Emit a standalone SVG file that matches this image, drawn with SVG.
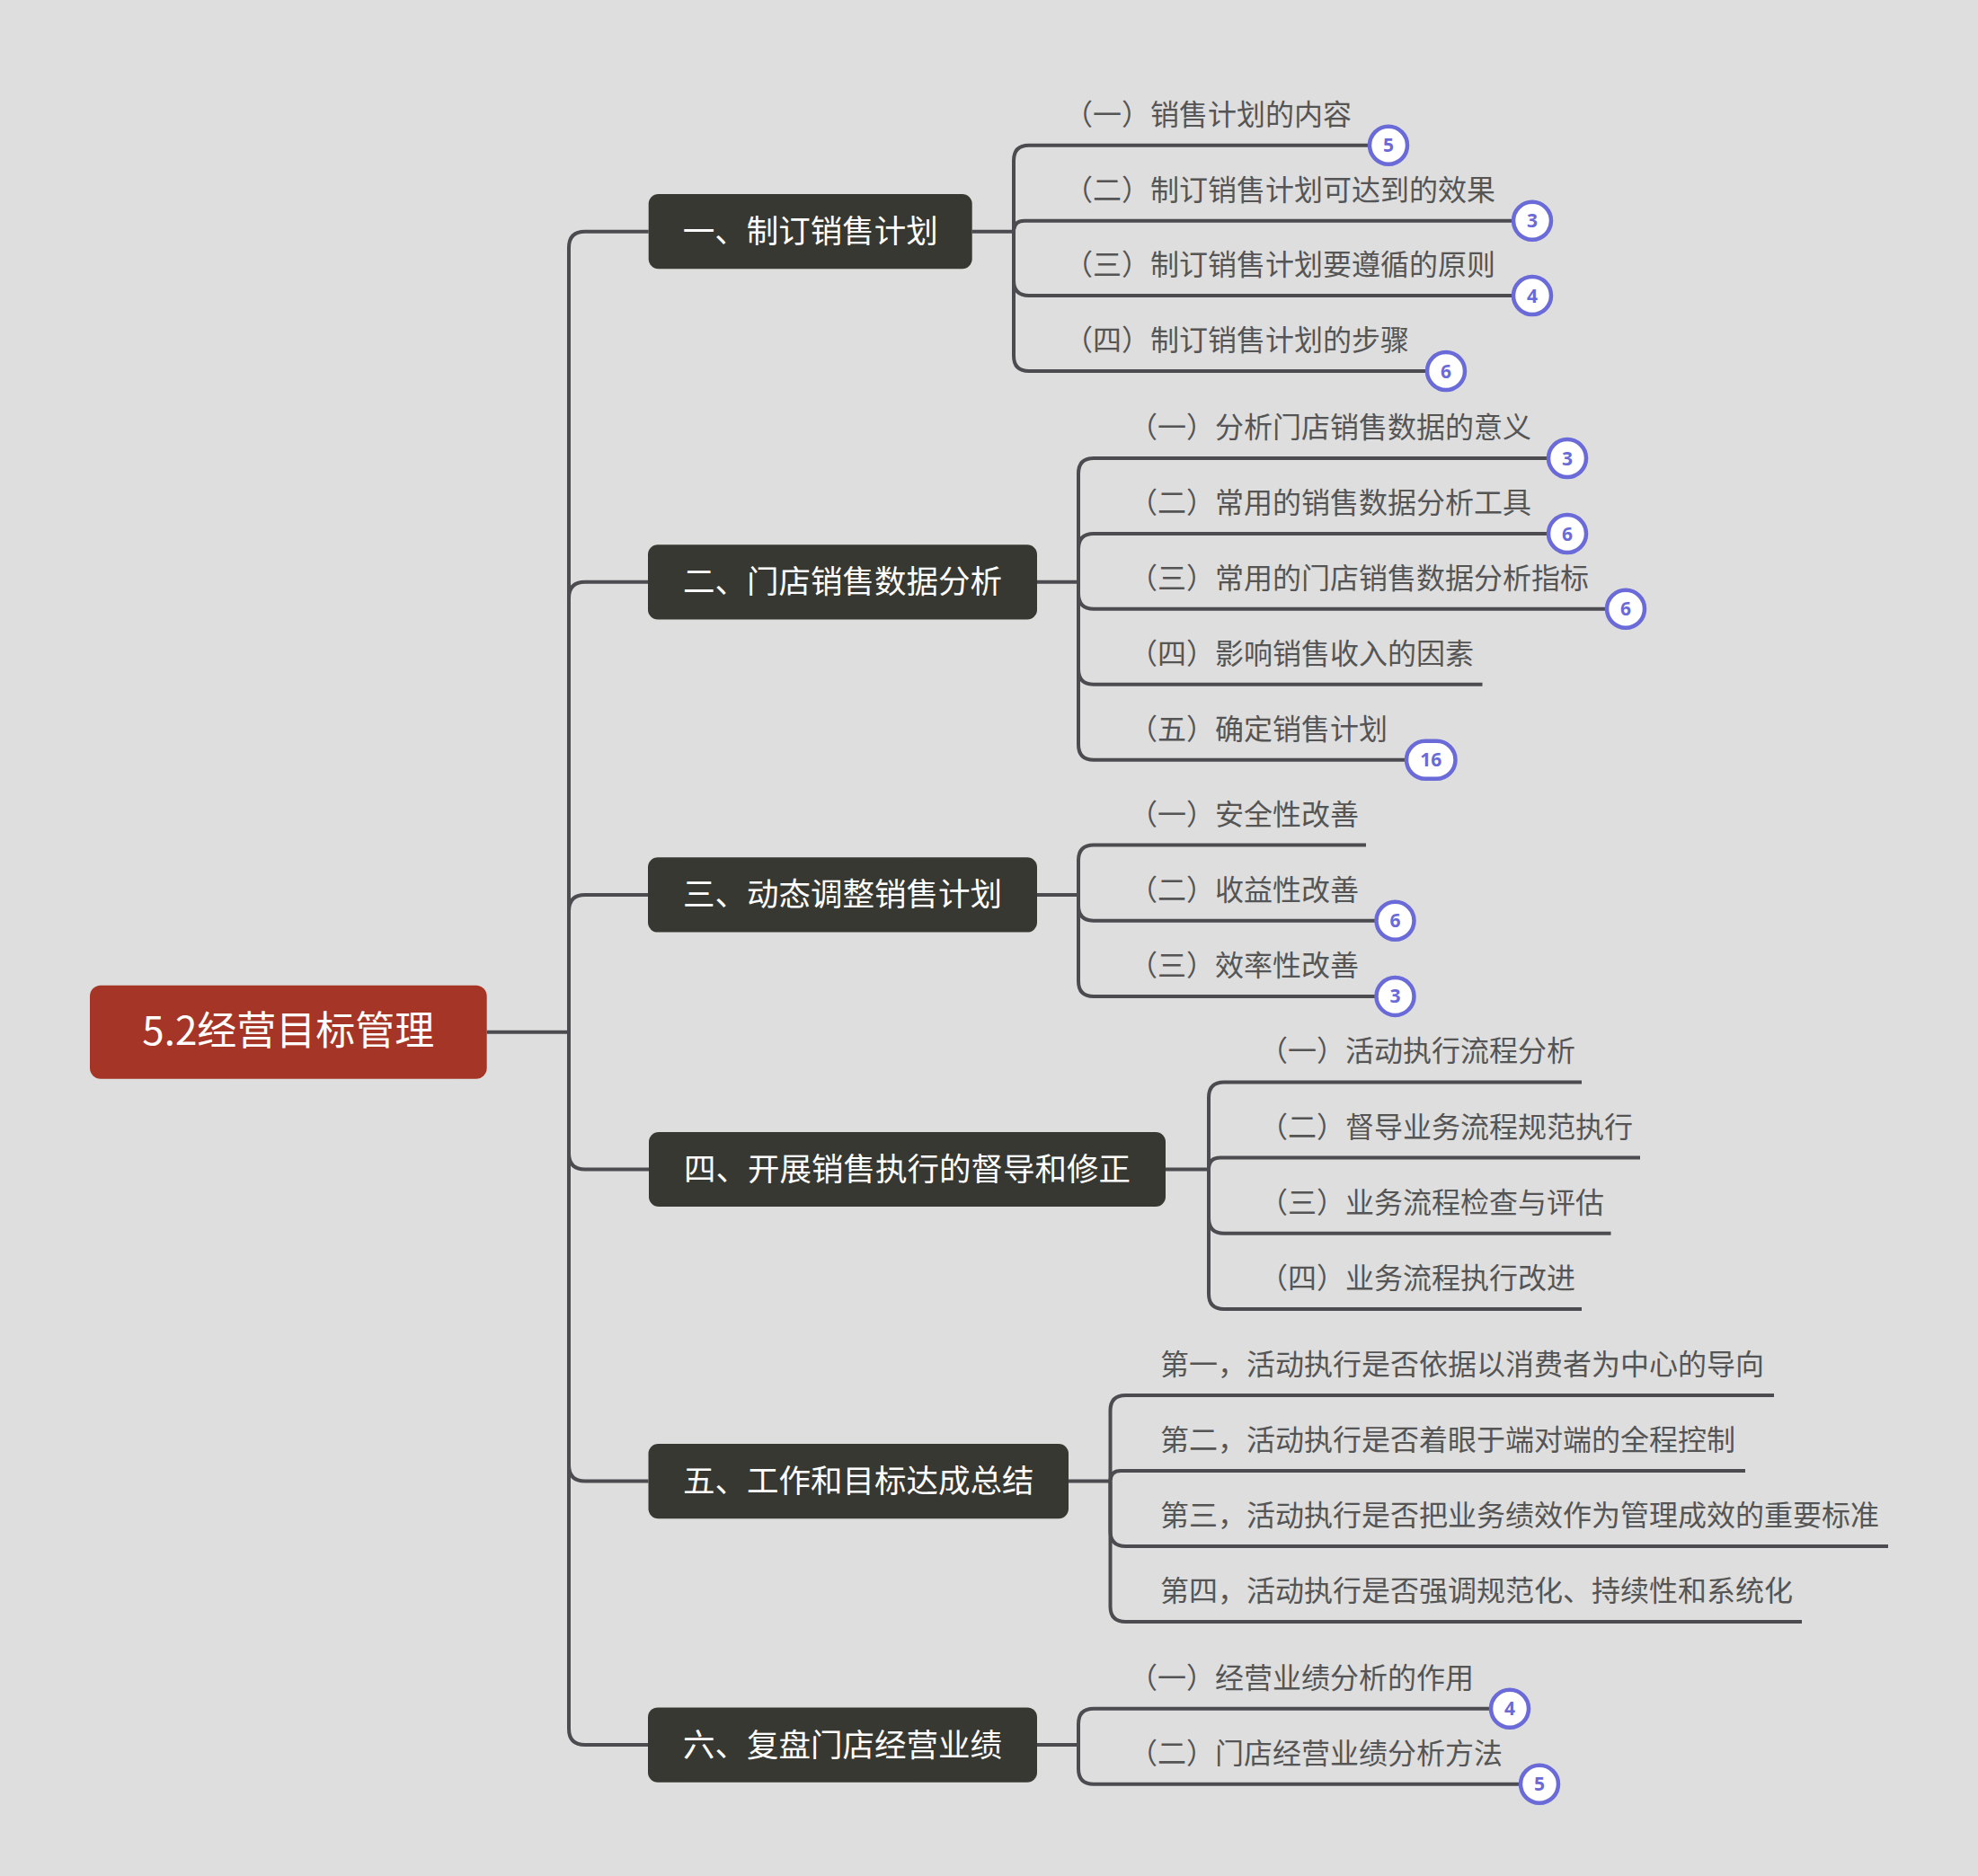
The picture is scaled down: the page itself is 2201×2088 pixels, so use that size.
<svg xmlns="http://www.w3.org/2000/svg" width="2201" height="2088" viewBox="0 0 2201 2088">
<style>
text{font-family:"Noto Sans CJK SC","Noto Sans",sans-serif}
.link{fill:none;stroke:#4b4b50;stroke-width:4}
.root rect{fill:#a53526}
.root text{fill:#ffffff;font-size:44px;text-anchor:middle}
.main rect{fill:#383833}
.main text{fill:#ffffff;font-size:35.5px;text-anchor:middle}
.sub text{fill:#555555;font-size:32px}
.badge circle,.badge rect{fill:#ffffff;stroke:#6a6ad8;stroke-width:4.5}
.badge text{fill:#6a6ad8;font-size:21px;font-weight:bold;text-anchor:middle;font-family:"Open Sans","Noto Sans",sans-serif}
</style>
<rect width="2201" height="2088" fill="#dedede"/>
<g id="connectors" class="link">
<path d="M541.7 1148.7 H633"/>
<path d="M633 1148.7 V275.7 Q633 257.7 651 257.7 H721.7"/>
<path d="M633 1148.7 V665.8 Q633 647.8 651 647.8 H721"/>
<path d="M633 1148.7 V1013.9 Q633 995.9 651 995.9 H721"/>
<path d="M633 1148.7 V1283.5 Q633 1301.5 651 1301.5 H722"/>
<path d="M633 1148.7 V1630.6 Q633 1648.6 651 1648.6 H721.5"/>
<path d="M633 1148.7 V1924 Q633 1942 651 1942 H721"/>
<path d="M1081.7 257.7 H1128"/>
<path d="M1128 257.7 V178.7 Q1128 161.7 1145 161.7 H1545"/>
<path d="M1128 257.7 Q1128 245.7 1140 245.7 H1705"/>
<path d="M1128 257.7 V312 Q1128 329 1145 329 H1705"/>
<path d="M1128 257.7 V396 Q1128 413 1145 413 H1609"/>
<path d="M1154 647.8 H1200"/>
<path d="M1200 647.8 V527 Q1200 510 1217 510 H1744"/>
<path d="M1200 647.8 V611 Q1200 594 1217 594 H1744"/>
<path d="M1200 647.8 V660.7 Q1200 677.7 1217 677.7 H1809"/>
<path d="M1200 647.8 V744.7 Q1200 761.7 1217 761.7 H1649.5"/>
<path d="M1200 647.8 V828.7 Q1200 845.7 1217 845.7 H1592"/>
<path d="M1154 995.9 H1200"/>
<path d="M1200 995.9 V957.5 Q1200 940.5 1217 940.5 H1520"/>
<path d="M1200 995.9 V1007.7 Q1200 1024.7 1217 1024.7 H1552.5"/>
<path d="M1200 995.9 V1091.9 Q1200 1108.9 1217 1108.9 H1552.5"/>
<path d="M1297 1301.5 H1345"/>
<path d="M1345 1301.5 V1221.4 Q1345 1204.4 1362 1204.4 H1760"/>
<path d="M1345 1301.5 Q1345 1288.6 1357.9 1288.6 H1825"/>
<path d="M1345 1301.5 V1355.8 Q1345 1372.8 1362 1372.8 H1792.5"/>
<path d="M1345 1301.5 V1440 Q1345 1457 1362 1457 H1760"/>
<path d="M1189 1648.6 H1235.5"/>
<path d="M1235.5 1648.6 V1570 Q1235.5 1553 1252.5 1553 H1974"/>
<path d="M1235.5 1648.6 Q1235.5 1637 1247.1 1637 H1942"/>
<path d="M1235.5 1648.6 V1704 Q1235.5 1721 1252.5 1721 H2101"/>
<path d="M1235.5 1648.6 V1788 Q1235.5 1805 1252.5 1805 H2005"/>
<path d="M1154 1942 H1200"/>
<path d="M1200 1942 V1918.7 Q1200 1901.7 1217 1901.7 H1680"/>
<path d="M1200 1942 V1968.7 Q1200 1985.7 1217 1985.7 H1713"/>
</g>
<g id="root" class="root">
<rect x="100" y="1096.7" width="441.7" height="104" rx="12"/>
<text x="320.8" y="1163">5.2经营目标管理</text>
</g>
<g id="b1" class="main"><rect x="721.7" y="216" width="360" height="83.3" rx="11"/><text x="901.7" y="270.2">一、制订销售计划</text></g>
<g id="b2" class="main"><rect x="721" y="606.2" width="433" height="83.3" rx="11"/><text x="937.5" y="660.3">二、门店销售数据分析</text></g>
<g id="b3" class="main"><rect x="721" y="954.3" width="433" height="83.3" rx="11"/><text x="937.5" y="1008.4">三、动态调整销售计划</text></g>
<g id="b4" class="main"><rect x="722" y="1260" width="575" height="83" rx="11"/><text x="1009.5" y="1314">四、开展销售执行的督导和修正</text></g>
<g id="b5" class="main"><rect x="721.5" y="1607" width="467.5" height="83.3" rx="11"/><text x="955.2" y="1661.1">五、工作和目标达成总结</text></g>
<g id="b6" class="main"><rect x="721" y="1900.4" width="433" height="83.3" rx="11"/><text x="937.5" y="1954.5">六、复盘门店经营业绩</text></g>
<g id="b1c1" class="sub"><text x="1184" y="138.7">（一）销售计划的内容</text></g>
<g id="b1c2" class="sub"><text x="1184" y="222.7">（二）制订销售计划可达到的效果</text></g>
<g id="b1c3" class="sub"><text x="1184" y="306">（三）制订销售计划要遵循的原则</text></g>
<g id="b1c4" class="sub"><text x="1184" y="390">（四）制订销售计划的步骤</text></g>
<g id="b2c1" class="sub"><text x="1256" y="487">（一）分析门店销售数据的意义</text></g>
<g id="b2c2" class="sub"><text x="1256" y="571">（二）常用的销售数据分析工具</text></g>
<g id="b2c3" class="sub"><text x="1256" y="654.7">（三）常用的门店销售数据分析指标</text></g>
<g id="b2c4" class="sub"><text x="1256" y="738.7">（四）影响销售收入的因素</text></g>
<g id="b2c5" class="sub"><text x="1256" y="822.7">（五）确定销售计划</text></g>
<g id="b3c1" class="sub"><text x="1256" y="917.5">（一）安全性改善</text></g>
<g id="b3c2" class="sub"><text x="1256" y="1001.7">（二）收益性改善</text></g>
<g id="b3c3" class="sub"><text x="1256" y="1085.9">（三）效率性改善</text></g>
<g id="b4c1" class="sub"><text x="1401" y="1181.4">（一）活动执行流程分析</text></g>
<g id="b4c2" class="sub"><text x="1401" y="1265.6">（二）督导业务流程规范执行</text></g>
<g id="b4c3" class="sub"><text x="1401" y="1349.8">（三）业务流程检查与评估</text></g>
<g id="b4c4" class="sub"><text x="1401" y="1434">（四）业务流程执行改进</text></g>
<g id="b5c1" class="sub"><text x="1291" y="1530">第一，活动执行是否依据以消费者为中心的导向</text></g>
<g id="b5c2" class="sub"><text x="1291" y="1614">第二，活动执行是否着眼于端对端的全程控制</text></g>
<g id="b5c3" class="sub"><text x="1291" y="1698">第三，活动执行是否把业务绩效作为管理成效的重要标准</text></g>
<g id="b5c4" class="sub"><text x="1291" y="1782">第四，活动执行是否强调规范化、持续性和系统化</text></g>
<g id="b6c1" class="sub"><text x="1256" y="1878.7">（一）经营业绩分析的作用</text></g>
<g id="b6c2" class="sub"><text x="1256" y="1962.7">（二）门店经营业绩分析方法</text></g>
<g id="badges" class="badge">
<g><circle cx="1545" cy="161.7" r="21"/><text x="1545" y="169.2">5</text></g>
<g><circle cx="1705" cy="245.7" r="21"/><text x="1705" y="253.2">3</text></g>
<g><circle cx="1705" cy="329" r="21"/><text x="1705" y="336.5">4</text></g>
<g><circle cx="1609" cy="413" r="21"/><text x="1609" y="420.5">6</text></g>
<g><circle cx="1744" cy="510" r="21"/><text x="1744" y="517.5">3</text></g>
<g><circle cx="1744" cy="594" r="21"/><text x="1744" y="601.5">6</text></g>
<g><circle cx="1809" cy="677.7" r="21"/><text x="1809" y="685.2">6</text></g>
<g><rect x="1565" y="824.7" width="54.5" height="42" rx="21"/><text x="1592.2" y="853.2">16</text></g>
<g><circle cx="1552.5" cy="1024.7" r="21"/><text x="1552.5" y="1032.2">6</text></g>
<g><circle cx="1552.5" cy="1108.9" r="21"/><text x="1552.5" y="1116.4">3</text></g>
<g><circle cx="1680" cy="1901.7" r="21"/><text x="1680" y="1909.2">4</text></g>
<g><circle cx="1713" cy="1985.7" r="21"/><text x="1713" y="1993.2">5</text></g>
</g>
</svg>
